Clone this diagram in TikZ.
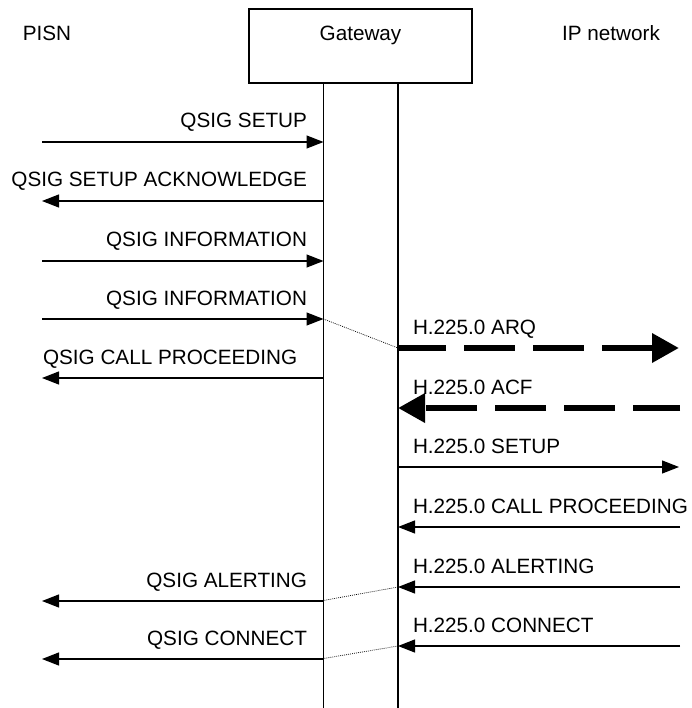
\documentclass[tikz,border=0pt]{standalone}
\usepackage{fontspec}
\setmainfont{Liberation Sans}
\usetikzlibrary{arrows.meta}
\begin{document}
\begin{tikzpicture}[x=1pt,y=-1pt,
  every node/.style={font=\fontsize{20.7}{24}\selectfont, inner sep=0pt, outer sep=0pt},
  msg/.style={line width=1.2pt, -{Triangle[length=17pt,width=13pt]}},
  bigmsg/.style={line width=6.5pt, dash pattern=on 51pt off 18pt, dash phase=3pt, -{Triangle[length=27pt,width=28pt]}},
  link/.style={line width=0.7pt, dash pattern=on 0.9pt off 1.1pt},
  life/.style={line width=1.2pt},
  lblL/.style={anchor=base east},
  lblR/.style={anchor=base west},
  boxst/.style={draw, line width=1.2pt, minimum width=223pt, minimum height=74pt}]
\useasboundingbox (0,0) rectangle (691,708);
% headers
\node[anchor=base] (pisn) at (47,40.5) {PISN};
\node[boxst] (gw) at (360.5,46) {};
\node[anchor=base] (gwt) at (360.5,40.5) {Gateway};
\node[anchor=base] (ipn) at (611,40.5) {IP network};
% lifelines
\coordinate (gA) at (323.5,83);
\coordinate (gB) at (398,83);
\coordinate (gAe) at (323.5,708);
\coordinate (gBe) at (398,708);
\draw[life] (gA) -- (gAe);
\draw[life] (gB) -- (gBe);
% left messages
\coordinate (l1) at (42,142);  \coordinate (a1) at (323.5,142);
\coordinate (l2) at (42,201);  \coordinate (a2) at (323.5,201);
\coordinate (l3) at (42,261);  \coordinate (a3) at (323.5,261);
\coordinate (l4) at (42,319);  \coordinate (a4) at (323.5,319);
\coordinate (l5) at (42,378);  \coordinate (a5) at (323.5,378);
\coordinate (l6) at (42,601);  \coordinate (a6) at (323.5,601);
\coordinate (l7) at (42,659);  \coordinate (a7) at (323.5,659);
\draw[msg] (l1) -- (a1);
\draw[msg] (a2) -- (l2);
\draw[msg] (l3) -- (a3);
\draw[msg] (l4) -- (a4);
\draw[msg] (a5) -- (l5);
\draw[msg] (a6) -- (l6);
\draw[msg] (a7) -- (l7);
\node[lblL] (t1) at (307,128) {QSIG SETUP};
\node[lblL] (t2) at (307,187) {QSIG SETUP ACKNOWLEDGE};
\node[lblL] (t3) at (307,247) {QSIG INFORMATION};
\node[lblL] (t4) at (307,305) {QSIG INFORMATION};
\node[lblR] (t5) at (43,364) {QSIG CALL PROCEEDING};
\node[lblL] (t6) at (307,587) {QSIG ALERTING};
\node[lblL] (t7) at (307,645) {QSIG CONNECT};
% right messages
\coordinate (b1) at (398,348);  \coordinate (r1) at (679,348);
\coordinate (b2) at (398,408);  \coordinate (r2) at (680,408);
\coordinate (b3) at (398,467);  \coordinate (r3) at (679,467);
\coordinate (b4) at (398,527);  \coordinate (r4) at (680,527);
\coordinate (b5) at (398,587);  \coordinate (r5) at (680,587);
\coordinate (b6) at (398,646);  \coordinate (r6) at (680,646);
\draw[bigmsg] (b1) -- (r1);
\draw[bigmsg, dash phase=4pt] (r2) -- (b2);
\draw[msg] (b3) -- (r3);
\draw[msg] (r4) -- (b4);
\draw[msg] (r5) -- (b5);
\draw[msg] (r6) -- (b6);
\node[lblR] (u1) at (413,334) {H.225.0 ARQ};
\node[lblR] (u2) at (413,394) {H.225.0 ACF};
\node[lblR] (u3) at (413,453) {H.225.0 SETUP};
\node[lblR] (u4) at (413,513) {H.225.0 CALL PROCEEDING};
\node[lblR] (u5) at (413,573) {H.225.0 ALERTING};
\node[lblR] (u6) at (413,632) {H.225.0 CONNECT};
% dotted links
\draw[link] (a4) -- (b1);
\draw[link] ([xshift=-3pt]a6) -- (b5);
\draw[link] ([xshift=-3pt]a7) -- (b6);
\end{tikzpicture}
\end{document}
